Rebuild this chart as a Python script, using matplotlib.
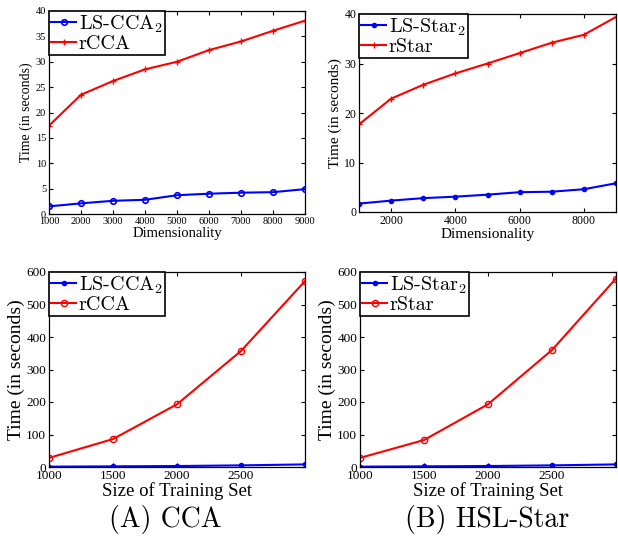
import matplotlib
matplotlib.use("Agg")
import matplotlib.pyplot as plt

# --- data ---
dims = [1000, 2000, 3000, 4000, 5000, 6000, 7000, 8000, 9000]
ls_cca_dim = [1.5, 2.1, 2.6, 2.8, 3.7, 4.0, 4.2, 4.3, 4.9]
rcca_dim = [17.4, 23.5, 26.2, 28.5, 30.0, 32.3, 34.0, 36.1, 38.1]
ls_star_dim = [1.7, 2.3, 2.8, 3.1, 3.5, 4.0, 4.1, 4.6, 5.8]
rstar_dim = [17.7, 22.9, 25.7, 28.0, 30.0, 32.1, 34.2, 35.8, 39.4]

train_sizes = [1000, 1500, 2000, 2500, 3000]
ls_cca_n = [1, 2, 3, 5, 8]
rcca_n = [28, 86, 193, 357, 572]
ls_star_n = [1, 2, 3, 5, 8]
rstar_n = [28, 83, 193, 360, 580]

plt.rcParams['font.family'] = ['Liberation Serif', 'DejaVu Serif']
plt.rcParams['mathtext.fontset'] = 'cm'

W, H = 618, 537
fig = plt.figure(figsize=(W / 100, H / 100), dpi=100)


def px_axes(l, t, r, b):
    return fig.add_axes([l / W, 1 - b / H, (r - l) / W, (b - t) / H])


def style(ax, tick_fs):
    ax.tick_params(direction='in', top=True, right=True, labelsize=tick_fs,
                   length=3, width=0.8, pad=2)
    for s in ax.spines.values():
        s.set_linewidth(0.9)


def add_legend(ax, fs):
    leg = ax.legend(loc='upper left', fancybox=False, framealpha=1,
                    edgecolor='black', borderaxespad=0, borderpad=0.12,
                    handlelength=1.2, handletextpad=0.15, labelspacing=0.0,
                    prop={'family': 'cmr10', 'size': fs})
    leg.get_frame().set_linewidth(1.2)


# (A) top: dimensionality
ax1 = px_axes(49, 11, 305, 214)
ax1.plot(dims, ls_cca_dim, color='blue', marker='o', ms=4, mfc='none', mew=1.2,
         lw=1.5, label=r'LS-CCA$_2$')
ax1.plot(dims, rcca_dim, color='red', marker='+', ms=4, mew=1, lw=1.5, label='rCCA')
ax1.set_xlim(1000, 9000)
ax1.set_ylim(0, 40)
ax1.set_xticks(dims)
ax1.set_yticks(range(0, 41, 5))
ax1.set_xlabel('Dimensionality', fontsize=10.5, labelpad=1)
ax1.set_ylabel('Time (in seconds)', fontsize=10, labelpad=2)
style(ax1, 7.5)
add_legend(ax1, 14.5)

# (B) top: dimensionality
ax2 = px_axes(359, 14, 616, 212)
ax2.plot(dims, ls_star_dim, color='blue', marker='.', ms=6, lw=1.5, label=r'LS-Star$_2$')
ax2.plot(dims, rstar_dim, color='red', marker='+', ms=4, mew=1, lw=1.5, label='rStar')
ax2.set_xlim(1000, 9000)
ax2.set_ylim(0, 40)
ax2.set_xticks([2000, 4000, 6000, 8000])
ax2.set_yticks(range(0, 41, 10))
ax2.set_xlabel('Dimensionality', fontsize=11, labelpad=1)
ax2.set_ylabel('Time (in seconds)', fontsize=11, labelpad=2)
style(ax2, 8.5)
add_legend(ax2, 14.5)

# (A) bottom: training set size
ax3 = px_axes(49, 272, 305, 467)
ax3.plot(train_sizes, ls_cca_n, color='blue', marker='.', ms=6, lw=1.5, label=r'LS-CCA$_2$')
ax3.plot(train_sizes, rcca_n, color='red', marker='o', ms=4.5, mfc='none', mew=1,
         lw=1.5, label='rCCA')
ax3.set_xlim(1000, 3000)
ax3.set_ylim(0, 600)
ax3.set_xticks([1000, 1500, 2000, 2500])
ax3.set_yticks(range(0, 601, 100))
ax3.set_xlabel('Size of Training Set', fontsize=13.5, labelpad=0)
ax3.set_ylabel('Time (in seconds)', fontsize=14, labelpad=1)
style(ax3, 9.5)
add_legend(ax3, 14.5)

# (B) bottom: training set size
ax4 = px_axes(360, 272, 616, 467)
ax4.plot(train_sizes, ls_star_n, color='blue', marker='.', ms=6, lw=1.5, label=r'LS-Star$_2$')
ax4.plot(train_sizes, rstar_n, color='red', marker='o', ms=4.5, mfc='none', mew=1,
         lw=1.5, label='rStar')
ax4.set_xlim(1000, 3000)
ax4.set_ylim(0, 600)
ax4.set_xticks([1000, 1500, 2000, 2500])
ax4.set_yticks(range(0, 601, 100))
ax4.set_xlabel('Size of Training Set', fontsize=13.5, labelpad=0)
ax4.set_ylabel('Time (in seconds)', fontsize=14, labelpad=1)
style(ax4, 9.5)
add_legend(ax4, 14.5)

fig.text(165 / W, 1 - 519 / H, '(A) CCA', family='cmr10', fontsize=20,
         ha='center', va='center')
fig.text(487 / W, 1 - 519 / H, '(B) HSL-Star', family='cmr10', fontsize=20,
         ha='center', va='center')

fig.savefig('out.png', dpi=100)
